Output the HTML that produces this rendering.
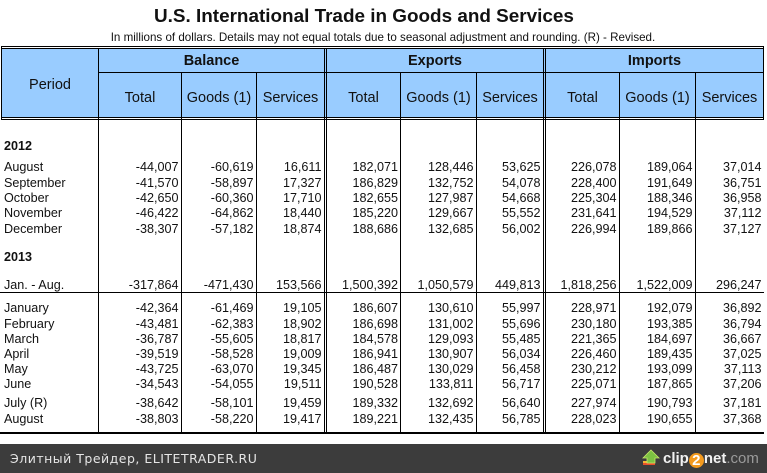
<!DOCTYPE html>
<html><head><meta charset="utf-8">
<style>
*{margin:0;padding:0;box-sizing:border-box}
body{width:767px;height:473px;position:relative;background:#fff;overflow:hidden;font-family:"Liberation Sans",Arial,sans-serif;color:#000}
.h{position:absolute;height:1px;background:#000}
.v{position:absolute;width:1px;background:#000}
.t{position:absolute;white-space:nowrap}
.hd{position:absolute;font-size:14.5px;line-height:17px;text-align:center;white-space:nowrap;color:#111}
.r{position:absolute;left:0;width:767px;height:15px;font-size:12.6px;line-height:15px;white-space:nowrap;color:#111}
.r span{position:absolute}
.r .l{left:4px}
.r .b{font-weight:bold}
.c1{right:588.5px}.c2{right:513.5px}.c3{right:445.5px}
.c4{right:369px}.c5{right:293.5px}.c6{right:226.5px}
.c7{right:150.5px}.c8{right:74.5px}.c9{right:5.5px}
</style></head><body>

<div class="t" style="left:154px;top:6.2px;font-size:18.9px;line-height:22px;font-weight:bold;color:#111">U.S. International Trade in Goods and Services</div>
<div class="t" style="left:110.7px;top:31px;font-size:11.6px;line-height:13px;color:#111">In millions of dollars. Details may not equal totals due to seasonal adjustment and rounding. (R) - Revised.</div>

<!-- header fill -->
<div style="position:absolute;left:2px;top:49px;width:761px;height:68px;background:#99ccff"></div>

<!-- horizontal lines -->
<div class="h" style="left:1px;top:46px;width:763px"></div>
<div class="h" style="left:1px;top:48px;width:763px"></div>
<div class="h" style="left:98px;top:72px;width:666px"></div>
<div class="h" style="left:1px;top:117px;width:763px"></div>
<div class="h" style="left:1px;top:119px;width:763px"></div>
<div class="h" style="left:0px;top:292px;width:764px"></div>
<div class="h" style="left:0px;top:432px;width:764px;height:2px"></div>

<!-- vertical lines -->
<div class="v" style="left:1px;top:46px;height:74px"></div>
<div class="v" style="left:763px;top:46px;height:74px"></div>
<div class="v" style="left:98px;top:48px;height:385px"></div>
<div class="v" style="left:324px;top:48px;height:385px"></div>
<div class="v" style="left:326px;top:48px;height:385px"></div>
<div class="v" style="left:543px;top:48px;height:385px"></div>
<div class="v" style="left:545px;top:48px;height:385px"></div>
<div class="v" style="left:181px;top:72px;height:361px"></div>
<div class="v" style="left:256px;top:72px;height:361px"></div>
<div class="v" style="left:400px;top:72px;height:361px"></div>
<div class="v" style="left:476px;top:72px;height:361px"></div>
<div class="v" style="left:619px;top:72px;height:361px"></div>
<div class="v" style="left:695px;top:72px;height:361px"></div>

<!-- header text -->
<div class="hd" style="left:2px;width:96px;top:76.8px">Period</div>
<div class="hd" style="left:99px;width:225px;top:52.5px;font-weight:bold">Balance</div>
<div class="hd" style="left:327px;width:216px;top:52.5px;font-weight:bold">Exports</div>
<div class="hd" style="left:546px;width:217px;top:52.5px;font-weight:bold">Imports</div>

<div class="hd" style="left:99px;width:82px;top:89.8px">Total</div>
<div class="hd" style="left:182px;width:74px;top:89.8px">Goods (1)</div>
<div class="hd" style="left:257px;width:67px;top:89.8px">Services</div>
<div class="hd" style="left:327px;width:73px;top:89.8px">Total</div>
<div class="hd" style="left:401px;width:75px;top:89.8px">Goods (1)</div>
<div class="hd" style="left:477px;width:66px;top:89.8px">Services</div>
<div class="hd" style="left:546px;width:73px;top:89.8px">Total</div>
<div class="hd" style="left:620px;width:75px;top:89.8px">Goods (1)</div>
<div class="hd" style="left:696px;width:67px;top:89.8px">Services</div>

<!-- body rows -->
<div class="r" style="top:138.8px"><span class="l b">2012</span></div>
<div class="r" style="top:160.4px"><span class="l">August</span><span class="c1">-44,007</span><span class="c2">-60,619</span><span class="c3">16,611</span><span class="c4">182,071</span><span class="c5">128,446</span><span class="c6">53,625</span><span class="c7">226,078</span><span class="c8">189,064</span><span class="c9">37,014</span></div>
<div class="r" style="top:175.7px"><span class="l">September</span><span class="c1">-41,570</span><span class="c2">-58,897</span><span class="c3">17,327</span><span class="c4">186,829</span><span class="c5">132,752</span><span class="c6">54,078</span><span class="c7">228,400</span><span class="c8">191,649</span><span class="c9">36,751</span></div>
<div class="r" style="top:191.0px"><span class="l">October</span><span class="c1">-42,650</span><span class="c2">-60,360</span><span class="c3">17,710</span><span class="c4">182,655</span><span class="c5">127,987</span><span class="c6">54,668</span><span class="c7">225,304</span><span class="c8">188,346</span><span class="c9">36,958</span></div>
<div class="r" style="top:206.3px"><span class="l">November</span><span class="c1">-46,422</span><span class="c2">-64,862</span><span class="c3">18,440</span><span class="c4">185,220</span><span class="c5">129,667</span><span class="c6">55,552</span><span class="c7">231,641</span><span class="c8">194,529</span><span class="c9">37,112</span></div>
<div class="r" style="top:221.6px"><span class="l">December</span><span class="c1">-38,307</span><span class="c2">-57,182</span><span class="c3">18,874</span><span class="c4">188,686</span><span class="c5">132,685</span><span class="c6">56,002</span><span class="c7">226,994</span><span class="c8">189,866</span><span class="c9">37,127</span></div>
<div class="r" style="top:249.8px"><span class="l b">2013</span></div>
<div class="r" style="top:277.6px"><span class="l">Jan. - Aug.</span><span class="c1">-317,864</span><span class="c2">-471,430</span><span class="c3">153,566</span><span class="c4">1,500,392</span><span class="c5">1,050,579</span><span class="c6">449,813</span><span class="c7">1,818,256</span><span class="c8">1,522,009</span><span class="c9">296,247</span></div>
<div class="r" style="top:301.4px"><span class="l">January</span><span class="c1">-42,364</span><span class="c2">-61,469</span><span class="c3">19,105</span><span class="c4">186,607</span><span class="c5">130,610</span><span class="c6">55,997</span><span class="c7">228,971</span><span class="c8">192,079</span><span class="c9">36,892</span></div>
<div class="r" style="top:316.6px"><span class="l">February</span><span class="c1">-43,481</span><span class="c2">-62,383</span><span class="c3">18,902</span><span class="c4">186,698</span><span class="c5">131,002</span><span class="c6">55,696</span><span class="c7">230,180</span><span class="c8">193,385</span><span class="c9">36,794</span></div>
<div class="r" style="top:331.8px"><span class="l">March</span><span class="c1">-36,787</span><span class="c2">-55,605</span><span class="c3">18,817</span><span class="c4">184,578</span><span class="c5">129,093</span><span class="c6">55,485</span><span class="c7">221,365</span><span class="c8">184,697</span><span class="c9">36,667</span></div>
<div class="r" style="top:347.0px"><span class="l">April</span><span class="c1">-39,519</span><span class="c2">-58,528</span><span class="c3">19,009</span><span class="c4">186,941</span><span class="c5">130,907</span><span class="c6">56,034</span><span class="c7">226,460</span><span class="c8">189,435</span><span class="c9">37,025</span></div>
<div class="r" style="top:362.2px"><span class="l">May</span><span class="c1">-43,725</span><span class="c2">-63,070</span><span class="c3">19,345</span><span class="c4">186,487</span><span class="c5">130,029</span><span class="c6">56,458</span><span class="c7">230,212</span><span class="c8">193,099</span><span class="c9">37,113</span></div>
<div class="r" style="top:377.4px"><span class="l">June</span><span class="c1">-34,543</span><span class="c2">-54,055</span><span class="c3">19,511</span><span class="c4">190,528</span><span class="c5">133,811</span><span class="c6">56,717</span><span class="c7">225,071</span><span class="c8">187,865</span><span class="c9">37,206</span></div>
<div class="r" style="top:396.4px"><span class="l">July (R)</span><span class="c1">-38,642</span><span class="c2">-58,101</span><span class="c3">19,459</span><span class="c4">189,332</span><span class="c5">132,692</span><span class="c6">56,640</span><span class="c7">227,974</span><span class="c8">190,793</span><span class="c9">37,181</span></div>
<div class="r" style="top:412.1px"><span class="l">August</span><span class="c1">-38,803</span><span class="c2">-58,220</span><span class="c3">19,417</span><span class="c4">189,221</span><span class="c5">132,435</span><span class="c6">56,785</span><span class="c7">228,023</span><span class="c8">190,655</span><span class="c9">37,368</span></div>

<!-- footer -->
<div style="position:absolute;left:0;top:444px;width:767px;height:29px;background:#3c3c3c"></div>
<div class="t" style="left:10px;top:450.5px;font-family:'DejaVu Sans',sans-serif;font-size:12.5px;line-height:15px;letter-spacing:0.5px;color:#e6e6e6">Элитный Трейдер, ELITETRADER.RU</div>

<svg style="position:absolute;left:642px;top:449px" width="20" height="18" viewBox="0 0 20 18">
  <rect x="1" y="12" width="12" height="4" fill="#e8502a"/>
  <rect x="1" y="12" width="12" height="2" fill="#f7b733"/>
  <polygon points="9,1 17,9 13,9 13,14 5,14 5,9 1,9" fill="#7cc242" stroke="#c8e86a" stroke-width="0.8"/>
</svg>
<div class="t" style="left:663px;top:450px;font-size:15px;line-height:17px;font-weight:bold;color:#f2f2f2">clip<span style="display:inline-block;width:15px;height:15px;border-radius:50%;background:#f39a1e;text-align:center;line-height:15px;vertical-align:-2px;color:#fff">2</span>net<span style="color:#9a9a9a;font-weight:normal">.com</span></div>

</body></html>
